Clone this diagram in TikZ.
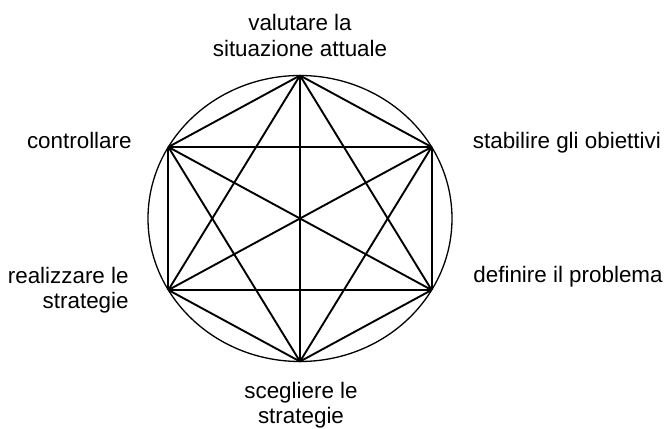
\documentclass[tikz,border=0pt]{standalone}
\usepackage{fontspec}
\setmainfont{Liberation Sans}
\usetikzlibrary{calc}

\tikzset{
  kenar/.style={line width=0.95pt,line join=round},
  etichetta/.style={font=\fontsize{11.2}{12.7}\selectfont,inner sep=0pt,align=center}
}

\begin{document}
\begin{tikzpicture}[x=0.5pt,y=0.5pt]
\useasboundingbox (0,0) rectangle (665,429);
\coordinate (centro) at (300,210.5);
% ellisse esterna
\draw[line width=0.65pt] (centro) ellipse [x radius=76pt, y radius=71.5pt];
% vertici dell'esagono
\foreach \i/\a in {1/90,2/30,3/-30,4/-90,5/-150,6/150} {
  \pgfmathsetmacro{\xa}{152*cos(\a)}
  \pgfmathsetmacro{\ya}{143*sin(\a)}
  \coordinate (v\i) at ($(centro)+(\xa,\ya)$);
}
% tutti i lati e le diagonali
\foreach \i in {1,...,5} {
  \pgfmathtruncatemacro{\inizio}{\i+1}
  \foreach \j in {\inizio,...,6}
    \draw[kenar] (v\i) -- (v\j);
}
% fasi
\node[etichetta] (valutare) at (300,393.5) {valutare la\\situazione attuale};
\node[etichetta,anchor=base west] (stabilire) at (472.5,280) {stabilire gli obiettivi};
\node[etichetta,anchor=base west] (definire) at (473,146.3) {definire il problema};
\node[etichetta] (scegliere) at (301,24) {scegliere le\\strategie};
\node[etichetta,align=right,anchor=east] (realizzare) at (129,139) {realizzare le\\strategie};
\node[etichetta,anchor=base east] (controllare) at (132,280) {controllare};
\end{tikzpicture}
\end{document}
